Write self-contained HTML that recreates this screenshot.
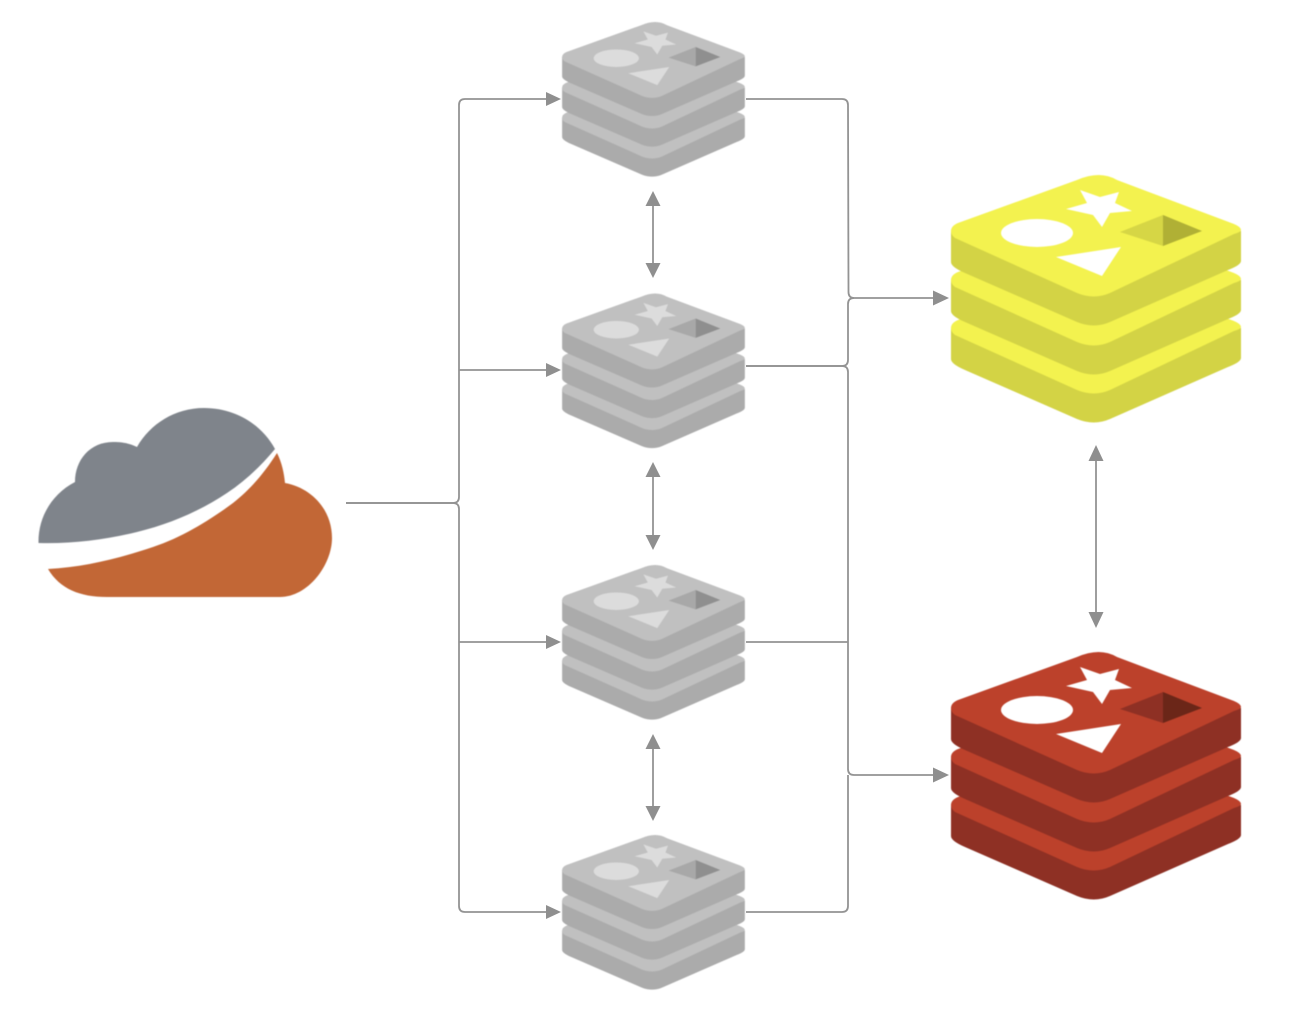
<!DOCTYPE html>
<html>
<head>
<meta charset="utf-8">
<style>
html,body{margin:0;padding:0;background:#fff;width:1308px;height:1032px;overflow:hidden}
svg{display:block}
.soft{filter:blur(.5px)}
</style>
</head>
<body>
<svg width="1308" height="1032" viewBox="0 0 1308 1032" xmlns="http://www.w3.org/2000/svg">
<defs>
<g id="slab">
<path fill="var(--d)" d="M951 231V262Q951 267 965 273L1077 322Q1094 329 1110 322L1228 270Q1241 265 1241 261V231Z"/>
<path fill="var(--l)" d="M1077 180Q1100 170 1117 180L1234 224Q1241 227 1241 230Q1241 232 1234 234L1110 293Q1094 300 1077 293L955 238Q951 235 951 231Q951 226 958 223Z"/>
</g>
<g id="stack">
<use href="#slab" y="97"/>
<use href="#slab" y="49"/>
<use href="#slab"/>
<polygon fill="var(--s)" points="1080,190 1100,197 1119,192 1115,203 1132,211 1110,213 1102,227 1093,215 1066,209 1087,203"/>
<ellipse fill="var(--s)" cx="1037" cy="233" rx="36" ry="14"/>
<polygon fill="var(--s)" points="1056,257 1121,247 1102,276"/>
<polygon fill="var(--m)" points="1120,232 1163,215 1163,246"/>
<polygon fill="var(--k)" points="1163,215 1202,231 1163,246"/>
</g>
<g id="small" style="--l:#c0c0c0;--d:#ababab;--s:#dcdcdc;--m:#a8a8a8;--k:#8f8f8f">
<use href="#stack" transform="translate(-37 -87.4) scale(.63 .625)"/>
</g>
</defs>

<!-- cloud -->
<g class="soft">
<path fill="#7f848b" d="M38.500 543C38 517 52 494 75 482C75 460 90 442 113 442C124 442 131 444 137 447C150 424 175 408 204 408C236 408 262 425 275 449C261 466 245 481 227 493C200 511 170 524 137 532C105 540 70 544 38.500 543Z"/>
<path fill="#c26736" d="M48 569C85 567 120 558 153 547C183 537 210 520 233 503C250 490 265 472 277 453C282 463 284 473 285 483C312 488 332 510 332 538C332 565 308 597 280 597H107C80 597 60 589 48 569Z"/>
</g>

<!-- connectors -->
<g fill="none" stroke="#939393" stroke-width="1.800">
<path d="M346 503H453Q459 503 459 497V105Q459 99 465 99H550"/>
<path d="M346 503H453Q459 503 459 509V906Q459 912 465 912H550"/>
<path d="M459 370H550"/>
<path d="M459 642H550"/>
<path d="M746 99H842Q848 99 848 105L848.500 292Q848.500 298 854 298H935"/>
<path d="M746 366H842Q848 366 848 360V304Q848 298 854 298"/>
<path d="M746 366H842Q848 366 848 372V769Q848 775 854 775H935"/>
<path d="M746 642H848"/>
<path d="M746 912H842Q848 912 848 906V775"/>
<path d="M653 200V270"/>
<path d="M653 471V542"/>
<path d="M653 743V813"/>
<path d="M1096 455V620"/>
</g>
<g fill="#8f8f8f">
<polygon points="546,92 561,99 546,106"/>
<polygon points="546,363 561,370 546,377"/>
<polygon points="546,635 561,642 546,649"/>
<polygon points="546,905 561,912 546,919"/>
<polygon points="933,290.500 949,298 933,305.500"/>
<polygon points="933,767.500 949,775 933,782.500"/>
<polygon points="653,191 660.500,206 645.500,206"/>
<polygon points="653,278 660.500,263 645.500,263"/>
<polygon points="653,462 660.500,477 645.500,477"/>
<polygon points="653,550 660.500,535 645.500,535"/>
<polygon points="653,734 660.500,749 645.500,749"/>
<polygon points="653,821 660.500,806 645.500,806"/>
<polygon points="1096,445 1103.500,461 1088.500,461"/>
<polygon points="1096,628 1103.500,612 1088.500,612"/>
</g>

<!-- small gray stacks -->
<g class="soft">
<use href="#small"/>
<use href="#small" y="271.500"/>
<use href="#small" y="543"/>
<use href="#small" y="813"/>
</g>

<!-- large stacks -->
<g class="soft" style="--l:#f3f24f;--d:#d3d345;--s:#ffffff;--m:#d6d645;--k:#b0b035">
<use href="#stack"/>
</g>
<g class="soft" style="--l:#bc412b;--d:#8e3024;--s:#ffffff;--m:#8e3024;--k:#6b2618">
<use href="#stack" y="477"/>
</g>
</svg>
</body>
</html>
